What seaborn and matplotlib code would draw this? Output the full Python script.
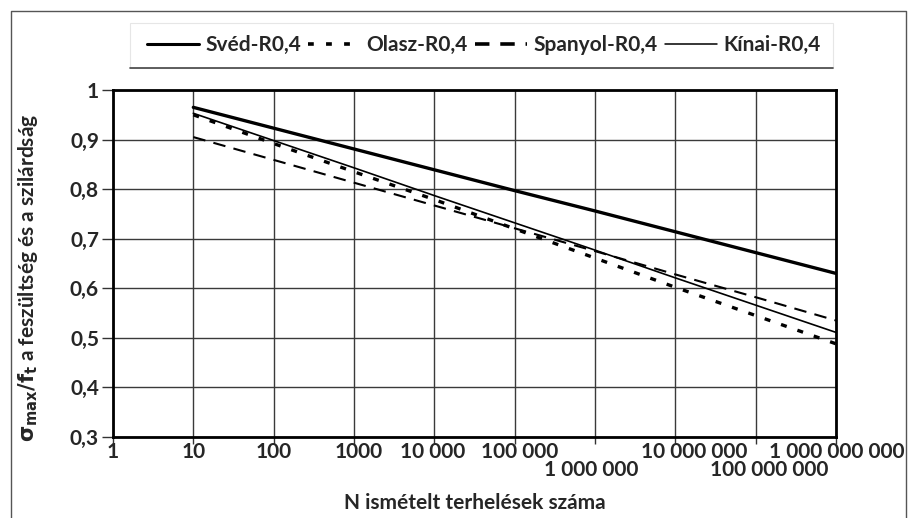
import numpy as np
import pandas as pd
import matplotlib
matplotlib.use("Agg")
import matplotlib.pyplot as plt
from matplotlib.lines import Line2D
from matplotlib.patches import Rectangle
from matplotlib.ticker import FixedLocator, NullFormatter
from matplotlib.transforms import offset_copy
import seaborn as sns

# ---- data ----
N = [1e1, 1e2, 1e3, 1e4, 1e5, 1e6, 1e7, 1e8, 1e9]
sved = [0.965, 0.923, 0.881, 0.839, 0.797, 0.756, 0.714, 0.672, 0.630]
olasz = [0.950, 0.892, 0.835, 0.779, 0.720, 0.661, 0.602, 0.545, 0.488]
spanyol = [0.905, 0.859, 0.813, 0.767, 0.721, 0.675, 0.628, 0.582, 0.535]
kinai = [0.953, 0.898, 0.843, 0.787, 0.732, 0.677, 0.621, 0.566, 0.511]
series_names = ["Svéd-R0,4", "Olasz-R0,4", "Spanyol-R0,4", "Kínai-R0,4"]

x_ticks = [1, 1e1, 1e2, 1e3, 1e4, 1e5, 1e6, 1e7, 1e8, 1e9]
x_tick_labels = ["1", "10", "100", "1000", "10 000", "100 000", "1 000 000",
                 "10 000 000", "100 000 000", "1 000 000 000"]
long_ticks = [1e6, 1e8]
y_ticks = [0.3, 0.4, 0.5, 0.6, 0.7, 0.8, 0.9, 1.0]
y_tick_labels = ["0,3", "0,4", "0,5", "0,6", "0,7", "0,8", "0,9", "1"]

# label placement tweaks (pixels): horizontal shift, row (0 upper / 1 lower)
lab_dx = [0, 0, 0, 5, -2, 5, -4, 19, 14, 1]
lab_row = [0, 0, 0, 0, 0, 0, 1, 0, 1, 0]

sns.set_theme(style="white")
FONT = ["Lato", "DejaVu Sans"]
plt.rcParams["font.family"] = FONT
plt.rcParams["font.weight"] = "bold"
plt.rcParams["mathtext.fontset"] = "dejavusans"

fig = plt.figure(figsize=(9.09, 5.18), dpi=100)
W, H = 909, 518
ax = fig.add_axes([113 / W, 1 - 437 / H, (836 - 113) / W, (437 - 90) / H])

df = pd.DataFrame({"N": N * 4,
                   "v": sved + olasz + spanyol + kinai,
                   "s": sum([[n] * len(N) for n in series_names], [])})

styles = {
    "Svéd-R0,4": dict(lw=2.4, ls="-"),
    "Olasz-R0,4": dict(lw=2.4, ls=(0, (1.8, 3.4))),
    "Spanyol-R0,4": dict(lw=1.5, ls=(0, (6, 4))),
    "Kínai-R0,4": dict(lw=1.2, ls="-"),
}
for name in series_names:
    sub = df[df["s"] == name]
    sns.lineplot(data=sub, x="N", y="v", ax=ax, color="black",
                 linewidth=styles[name]["lw"], linestyle=styles[name]["ls"],
                 legend=False)

ax.set_xscale("log")
ax.set_xlim(1, 1e9)
ax.set_ylim(0.3, 1.0)
ax.xaxis.set_major_locator(FixedLocator(x_ticks))
ax.xaxis.set_major_formatter(NullFormatter())
ax.xaxis.set_minor_locator(FixedLocator(long_ticks))
ax.xaxis.set_minor_formatter(NullFormatter())
ax.set_yticks(y_ticks)
ax.set_yticklabels(y_tick_labels)
ax.yaxis.set_minor_locator(FixedLocator([]))
ax.grid(True, which="major", color="#3a3a3a", lw=1.0)
ax.grid(False, which="minor")
for sp in ax.spines.values():
    sp.set_visible(True)
    sp.set_linewidth(2.0)
    sp.set_color("black")

ax.tick_params(axis="x", which="major", direction="out", length=5, width=1,
               color="#333", bottom=True)
ax.tick_params(axis="x", which="minor", direction="out", length=16, width=1.2,
               color="#111", bottom=True)
ax.tick_params(axis="y", direction="out", length=8, width=1, color="#333",
               pad=2, labelsize=15, left=True)
for lab in ax.get_yticklabels():
    lab.set_fontweight("bold")

# x tick labels, staggered as in the original
base = ax.get_xaxis_transform()
for xv, txt, dx, row in zip(x_ticks, x_tick_labels, lab_dx, lab_row):
    dy = -5 if row == 0 else -23
    tr = offset_copy(base, fig=fig, x=dx * 0.72, y=dy * 0.72, units="points")
    ax.text(xv, 0, txt, transform=tr, ha="center", va="top",
            fontsize=15, fontweight="bold", clip_on=False)

ax.set_xlabel("N ismételt terhelések száma", fontsize=15, fontweight="bold")
ax.xaxis.set_label_coords(0.5, -0.19)
ax.xaxis.label.set_va("center")
ax.set_ylabel(r"$\mathbf{\sigma}_{\mathbf{max}}\mathbf{/f}_{\mathbf{t}}$ a feszültség és a szilárdság",
              fontsize=15, fontweight="bold")
ax.yaxis.set_label_coords(-0.118, 0.46)
ax.yaxis.label.set_va("center")

# legend box
fig.add_artist(Rectangle((130 / W, 1 - 68 / H), (833 - 130) / W, 45 / H,
                         transform=fig.transFigure, fill=False,
                         edgecolor="#e6e6e6", lw=0.8))
fig.add_artist(Line2D([130 / W, 833 / W], [1 - 68 / H, 1 - 68 / H],
                      transform=fig.transFigure, color="#444", lw=1.2))
handles = [Line2D([], [], color="black", lw=2.2, ls="-"),
           Line2D([], [], color="black", lw=2.6, ls=(0, (1.6, 3.4))),
           Line2D([], [], color="black", lw=2.6, ls=(0, (4, 3))),
           Line2D([], [], color="black", lw=1.1, ls="-")]
leg = fig.legend(handles, series_names, loc="center",
                 bbox_to_anchor=((137 + 830) / 2 / W, 1 - 45 / H),
                 ncol=4, frameon=False, handlelength=2.5, handletextpad=0.3,
                 columnspacing=0.35, prop=dict(family=FONT, weight="bold", size=15))

# outer frame
fx0, fx1, fy = 11 / W, 906 / W, 1 - 11 / H
fig.add_artist(Line2D([fx0, fx0, fx1, fx1], [0, fy, fy, 0],
                      transform=fig.transFigure, color="#555", lw=1.0))

fig.savefig("out.png", dpi=100)
